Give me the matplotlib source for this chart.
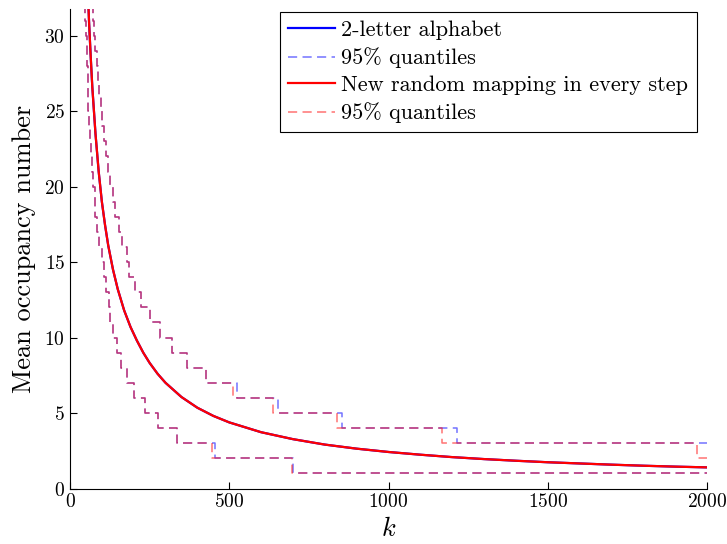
import numpy as np
import matplotlib
matplotlib.use("Agg")
import matplotlib.pyplot as plt

plt.rcParams['font.family'] = 'serif'
plt.rcParams['font.serif'] = ['cmr10']
plt.rcParams['mathtext.fontset'] = 'cm'
plt.rcParams['axes.formatter.use_mathtext'] = True

# mean occupancy (both models give nearly the same curve)
k_mean = [55, 60, 65, 70, 80, 90, 100, 110, 120, 135, 150, 170, 190, 210,
          230, 250, 275, 300, 350, 400, 450, 500, 600, 700, 800, 900, 1000,
          1100, 1200, 1300, 1400, 1500, 1600, 1700, 1800, 1900, 2000]
mean_alpha = [33.5, 30.8, 28.6, 26.6, 23.5, 21.0, 19.0, 17.45, 16.1, 14.5,
              13.2, 11.8, 10.7, 9.8, 9.0, 8.32, 7.6, 7.0, 6.06, 5.35, 4.81,
              4.38, 3.73, 3.27, 2.91, 2.64, 2.42, 2.24, 2.08, 1.95, 1.84,
              1.74, 1.66, 1.58, 1.51, 1.45, 1.40]
mean_rand = mean_alpha

# upper 95% quantile: k where each level starts
up_levels = [32, 31, 30, 29, 28, 27, 26, 25, 24, 23, 22, 21, 20, 19, 18, 17,
             16, 15, 14, 13, 12, 11, 10, 9, 8, 7, 6, 5, 4, 3]
up_k_alpha = [70, 73, 76, 80, 84, 88, 92, 96, 101, 107, 113, 119, 126, 134,
              142, 153, 163, 178, 186, 203, 222, 251, 282, 320, 367, 428,
              523, 654, 853, 1214]
up_k_rand = [70, 73, 76, 80, 84, 88, 92, 96, 101, 107, 113, 119, 126, 134,
             142, 153, 163, 178, 186, 203, 222, 251, 282, 320, 367, 428,
             512, 637, 837, 1167, 1968]
up_levels_rand = up_levels + [2]

# lower 95% quantile
lo_levels = [32, 31, 30, 29, 28, 27, 26, 25, 24, 23, 22, 21, 20, 19, 18, 17,
             16, 15, 14, 13, 12, 11, 10, 9, 8, 7, 6, 5, 4, 3, 2, 1]
lo_k_alpha = [45, 48, 50, 52, 53.5, 55, 57, 58, 61, 64, 67, 70, 73, 77, 80,
              84, 91, 99, 106, 114, 121, 127, 136, 147, 160, 178, 201, 235,
              277, 335, 455, 700]
lo_k_rand = [45, 48, 50, 52, 53.5, 55, 57, 58, 61, 64, 67, 70, 73, 77, 80,
             84, 91, 99, 106, 114, 121, 127, 136, 147, 160, 178, 201, 235,
             277, 335, 446, 697]

k_end = 2000


def stairs(ax, ks, levels, **kw):
    x = list(ks) + [k_end]
    y = list(levels) + [levels[-1]]
    return ax.step(x, y, where='post', **kw)


fig = plt.figure(figsize=(7.27, 5.44), dpi=100)
ax = fig.add_axes([0.0963, 0.102, 0.8762, 0.881])

dash = dict(lw=1.1, dashes=(6, 3.5), alpha=0.55)
h1, = ax.plot(k_mean, mean_alpha, color='#0000ff', lw=1.6)
h2, = stairs(ax, up_k_alpha, up_levels, color='#0000ff', **dash)
stairs(ax, lo_k_alpha, lo_levels, color='#0000ff', **dash)
h3, = ax.plot(k_mean, mean_rand, color='#ff0000', lw=1.6)
h4, = stairs(ax, up_k_rand, up_levels_rand, color='#ff0000', **dash)
stairs(ax, lo_k_rand, lo_levels, color='#ff0000', **dash)

ax.set_xlim(0, 2000)
ax.set_ylim(0, 31.75)
ax.set_xticks([0, 500, 1000, 1500, 2000])
ax.set_yticks([0, 5, 10, 15, 20, 25, 30])
ax.tick_params(direction='in', length=5, width=0.8, labelsize=14)
ax.spines['top'].set_visible(False)
ax.spines['right'].set_visible(False)
ax.set_xlabel('$k$', fontsize=19, labelpad=4)
ax.set_ylabel('Mean occupancy number', fontsize=19, labelpad=6)

leg = ax.legend([h1, h2, h3, h4],
                ['2-letter alphabet', '95% quantiles',
                 'New random mapping in every step', '95% quantiles'],
                loc='upper right', bbox_to_anchor=(0.984, 0.994),
                fontsize=16, frameon=True, fancybox=False,
                framealpha=1, edgecolor='black', handlelength=2.1,
                handletextpad=0.3, labelspacing=0.33, borderpad=0.38,
                borderaxespad=0)
leg.get_frame().set_linewidth(0.8)

plt.savefig('out.png', dpi=100)
